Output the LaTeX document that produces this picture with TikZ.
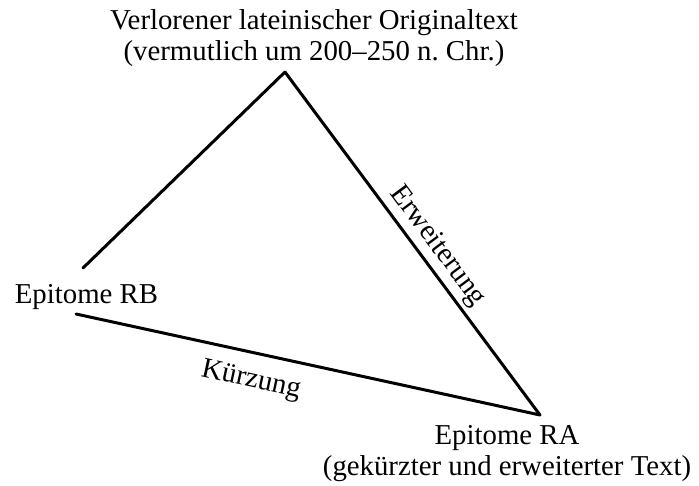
\documentclass[tikz,border=0pt]{standalone}
\usepackage{fontspec}
\setmainfont{Liberation Serif}
\usepackage{tikz}

\begin{document}
\begin{tikzpicture}[
    x=1pt, y=-1pt,
    txt/.style={inner sep=0pt, align=center, font=\fontsize{28.8}{31}\selectfont},
    edge/.style={line width=3pt, line cap=round}
]
\useasboundingbox (0,0) rectangle (699,485);

% Texts
\node[txt, anchor=north] (orig) at (314,9) {Verlorener lateinischer Originaltext\\(vermutlich um 200--250 n.~Chr.)};
\node[txt, anchor=base] (rb) at (86.5,303) {Epitome RB};
\node[txt, anchor=north] (ra) at (507,425) {Epitome RA\\(gekürzter und erweiterter Text)};

% Corners of the triangle
\coordinate (apex) at (285,72);
\coordinate (rbtop) at (83,268);
\coordinate (rbbot) at (76,314);
\coordinate (raend) at (540,415);

% Lines
\draw[edge] (rbtop) -- (apex);
\draw[edge] (apex) -- node[txt, sloped, above=4pt, pos=0.54] (erw) {Erweiterung} (raend);
\draw[edge] (rbbot) -- node[txt, sloped, below=14pt, pos=0.39] (kue) {Kürzung} (raend);

\end{tikzpicture}
\end{document}
